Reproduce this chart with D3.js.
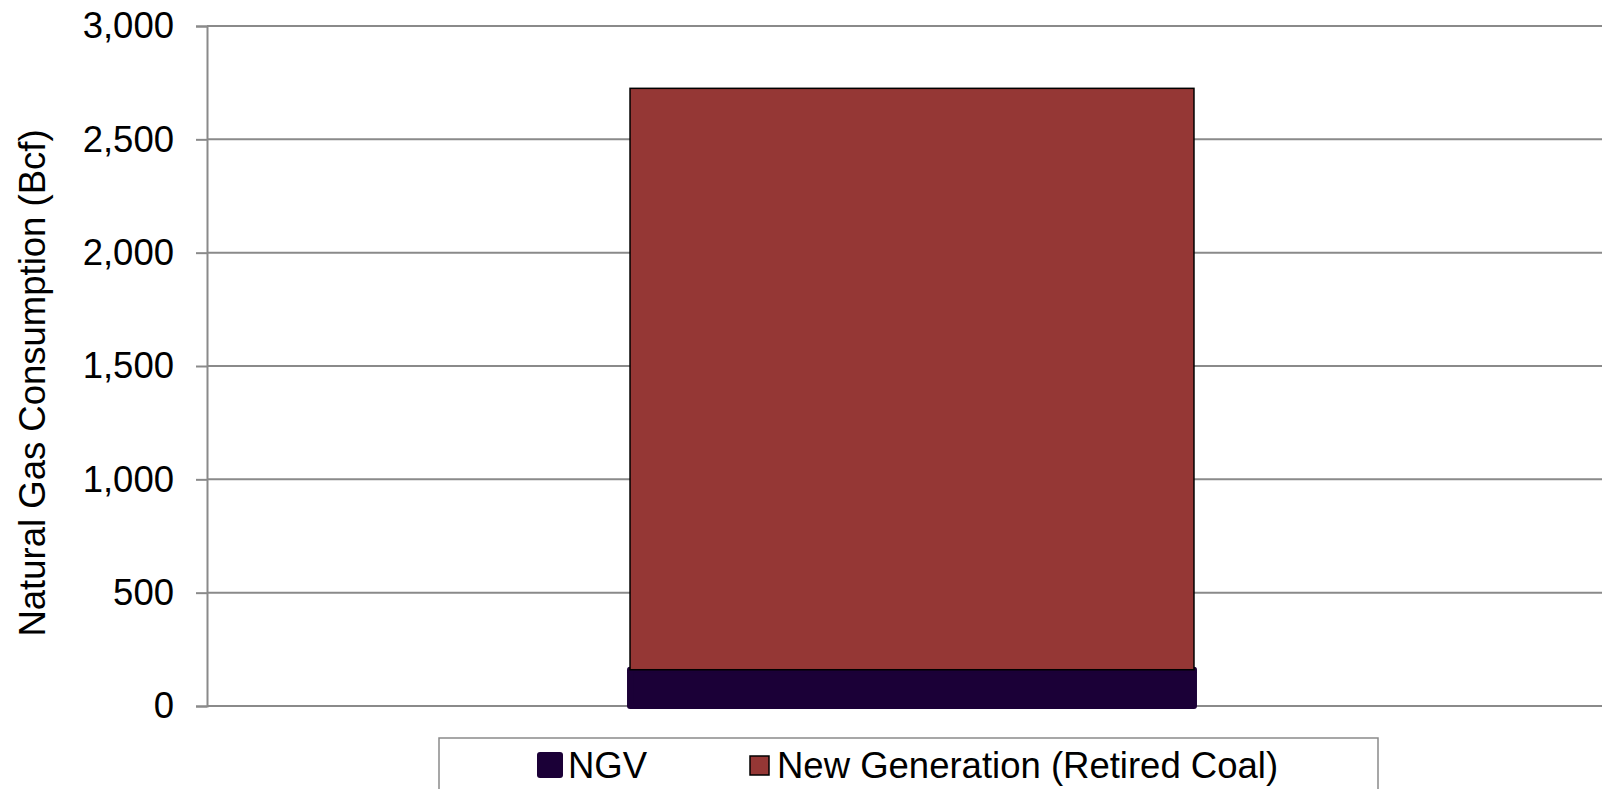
<!DOCTYPE html>
<html>
<head>
<meta charset="utf-8">
<script src="https://cdn.jsdelivr.net/npm/d3@7/dist/d3.min.js"></script>
<style>
  body { margin: 0; background: #fff; }
  svg { display: block; font-family: "Liberation Sans", Arial, sans-serif; }
</style>
</head>
<body>
<div id="chart"></div>
<script>
// data
var categories = [""];
var seriesNames = ["NGV", "New Generation (Retired Coal)"];
var seriesColors = ["#1b0037", "#953735"];
var ngv = [160];
var newGen = [2565];
var yTicks = [0, 500, 1000, 1500, 2000, 2500, 3000];

var width = 1602, height = 789;

var svg = d3.select("#chart").append("svg")
    .attr("width", width)
    .attr("height", height);

var y = d3.scaleLinear().domain([0, 3000]).range([706, 26]);
var x = d3.scaleBand().domain(categories).range([207, 1617]).padding(0.4286);

// gridlines
svg.append("g").selectAll("line")
    .data(yTicks)
    .enter().append("line")
    .attr("x1", 207).attr("x2", width)
    .attr("y1", function (d) { return y(d); })
    .attr("y2", function (d) { return y(d); })
    .attr("stroke", "#8a8a8a")
    .attr("stroke-width", 2);

// y axis
var yAxis = d3.axisLeft(y)
    .tickValues(yTicks)
    .tickSize(11)
    .tickPadding(22)
    .tickFormat(d3.format(","));

var axisG = svg.append("g")
    .attr("transform", "translate(207,0)")
    .call(yAxis);
axisG.select(".domain").attr("stroke", "#8a8a8a").attr("stroke-width", 2);
axisG.selectAll(".tick line").attr("stroke", "#8a8a8a").attr("stroke-width", 2);
axisG.selectAll(".tick text")
    .attr("fill", "#000")
    .style("font-size", "36.5px")
    .style("font-family", "'Liberation Sans', Arial, sans-serif");

// stacked bar
var stackData = categories.map(function (c, i) {
    return {cat: c, ngv: ngv[i], newGen: newGen[i]};
});
var stacked = d3.stack().keys(["ngv", "newGen"])(stackData);

// NGV: thick rounded stroke in same colour
svg.append("g").selectAll("rect")
    .data(stacked[0])
    .enter().append("rect")
    .attr("x", function (d) { return x(d.data.cat); })
    .attr("width", x.bandwidth())
    .attr("y", function (d) { return y(d[1]); })
    .attr("height", function (d) { return y(d[0]) - y(d[1]); })
    .attr("fill", seriesColors[0])
    .attr("stroke", seriesColors[0])
    .attr("stroke-width", 6)
    .attr("stroke-linejoin", "round");

svg.append("g").selectAll("rect")
    .data(stacked[1])
    .enter().append("rect")
    .attr("x", function (d) { return x(d.data.cat); })
    .attr("width", x.bandwidth())
    .attr("y", function (d) { return y(d[1]); })
    .attr("height", function (d) { return y(d[0]) - y(d[1]); })
    .attr("fill", seriesColors[1])
    .attr("stroke", "#000")
    .attr("stroke-width", 1.5);

// axis title
svg.append("text")
    .attr("transform", "translate(45,383) rotate(-90)")
    .attr("text-anchor", "middle")
    .style("font-size", "36.5px")
    .text("Natural Gas Consumption (Bcf)");

// legend
var legend = svg.append("g");
legend.append("rect")
    .attr("x", 439).attr("y", 738)
    .attr("width", 939).attr("height", 80)
    .attr("fill", "#fff")
    .attr("stroke", "#8a8a8a")
    .attr("stroke-width", 1.5);

legend.append("rect")
    .attr("x", 537).attr("y", 752)
    .attr("width", 26).attr("height", 26)
    .attr("rx", 3)
    .attr("fill", seriesColors[0]);
legend.append("text")
    .attr("x", 568).attr("y", 778)
    .style("font-size", "36.5px")
    .text(seriesNames[0]);

legend.append("rect")
    .attr("x", 750).attr("y", 756)
    .attr("width", 19).attr("height", 19)
    .attr("fill", seriesColors[1])
    .attr("stroke", "#000")
    .attr("stroke-width", 1.5);
legend.append("text")
    .attr("x", 777).attr("y", 778)
    .style("font-size", "36.5px")
    .text(seriesNames[1]);
</script>
</body>
</html>
